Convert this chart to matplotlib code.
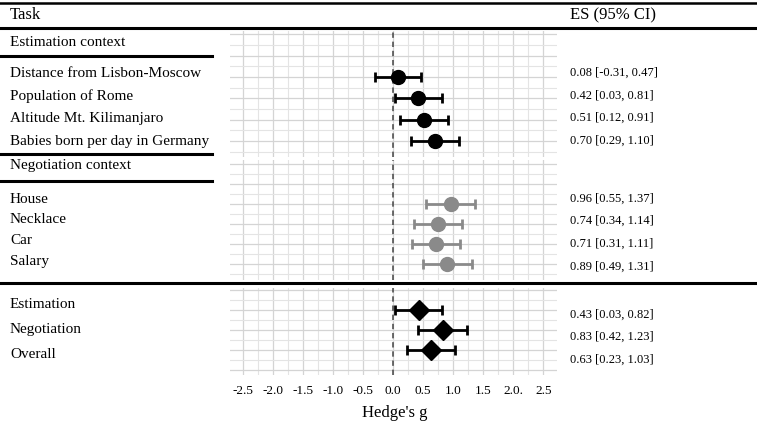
import matplotlib
matplotlib.use('Agg')
import matplotlib.pyplot as plt
from matplotlib.ticker import MultipleLocator

plt.rcParams['font.family'] = ['Liberation Serif', 'DejaVu Serif']

# --- data ---
est_tasks = ['Distance from Lisbon-Moscow', 'Population of Rome',
             'Altitude Mt. Kilimanjaro', 'Babies born per day in Germany']
est_es = [0.08, 0.42, 0.51, 0.70]
est_lo = [-0.31, 0.03, 0.12, 0.29]
est_hi = [0.47, 0.81, 0.91, 1.10]

neg_tasks = ['House', 'Necklace', 'Car', 'Salary']
neg_es = [0.96, 0.74, 0.71, 0.89]
neg_lo = [0.55, 0.34, 0.31, 0.49]
neg_hi = [1.37, 1.14, 1.11, 1.31]

sum_tasks = ['Estimation', 'Negotiation', 'Overall']
sum_es = [0.43, 0.83, 0.63]
sum_lo = [0.03, 0.42, 0.23]
sum_hi = [0.82, 1.23, 1.03]

tick_vals = [-2.5, -2.0, -1.5, -1.0, -0.5, 0.0, 0.5, 1.0, 1.5, 2.0, 2.5]
tick_labels = ['-2.5', '-2.0', '-1.5', '-1.0', '-0.5', '0.0', '0.5', '1.0', '1.5', '2.0.', '2.5']

# --- layout (pixels) ---
W, H = 757, 425
PX0, PX1 = 230, 557          # panel x extent
XLIM = (-2.72, 2.73)
panels = [
    # top, bottom, first row y, row step, label ys, es ys
    dict(top=31, bot=157, y0=77, step=21.3, lab=[73, 96, 118, 141], esy=[73, 96, 118, 141]),
    dict(top=160, bot=280, y0=204, step=20, lab=[199, 219, 240, 262], esy=[199, 221, 244, 267]),
    dict(top=288, bot=375, y0=310, step=20, lab=[304, 330, 354], esy=[315, 337, 360]),
]
groups = [
    (est_tasks, est_es, est_lo, est_hi, 'black', 'o', 10),
    (neg_tasks, neg_es, neg_lo, neg_hi, '#8a8a8a', 'o', 10),
    (sum_tasks, sum_es, sum_lo, sum_hi, 'black', 'D', 10),
]

fig = plt.figure(figsize=(W / 100, H / 100), dpi=100)

axes = []
for p, (tasks, es, lo, hi, col, mk, ms) in zip(panels, groups):
    ax = fig.add_axes([PX0 / W, 1 - p['bot'] / H, (PX1 - PX0) / W, (p['bot'] - p['top']) / H])
    ytop = (p['top'] - p['y0']) / p['step']
    ybot = (p['bot'] - p['y0']) / p['step']
    ax.set_ylim(ybot, ytop)
    ax.set_xlim(*XLIM)
    rows = list(range(len(tasks)))
    xerr = [[e - l for e, l in zip(es, lo)], [h - e for e, h in zip(es, hi)]]
    ax.errorbar(es, rows, xerr=xerr, fmt=mk, color=col, ms=ms, lw=2,
                capsize=3.5, capthick=2, zorder=3)
    ax.axvline(0, color='#444444', lw=1.1, ls=(0, (3.5, 2.5)), zorder=2)
    ax.xaxis.set_major_locator(MultipleLocator(0.5))
    ax.xaxis.set_minor_locator(MultipleLocator(0.25))
    ax.yaxis.set_major_locator(MultipleLocator(1))
    ax.yaxis.set_minor_locator(MultipleLocator(0.5))
    ax.grid(True, which='major', color='#d4d4d4', lw=0.9)
    ax.grid(True, which='minor', color='#e4e4e4', lw=0.8)
    ax.tick_params(which='both', length=0, labelleft=False, labelbottom=False)
    for s in ax.spines.values():
        s.set_visible(False)
    ax.set_axisbelow(True)
    axes.append(ax)

axes[-1].set_xticks(tick_vals)
axes[-1].set_xticklabels(tick_labels)
axes[-1].tick_params(labelbottom=True, labelsize=9.5, pad=7)

# overlay for table text and rules
ov = fig.add_axes([0, 0, 1, 1])
ov.set_xlim(0, W)
ov.set_ylim(H, 0)
ov.axis('off')
ov.patch.set_visible(False)

ov.plot([0, W], [3, 3], color='black', lw=1.8)
ov.plot([0, W], [28, 28], color='black', lw=2.2)
ov.plot([0, W], [283, 283], color='black', lw=2.2)
for y in (56, 154, 181):
    ov.plot([0, 212], [y, y], color='black', lw=2.2)

ov.text(10, 15, 'Task', fontsize=12, va='center')
ov.text(570, 15, 'ES (95% CI)', fontsize=12, va='center')
ov.text(10, 42, 'Estimation context', fontsize=11, va='center')
ov.text(10, 166, 'Negotiation context', fontsize=11, va='center')

for p, (tasks, es, lo, hi, col, mk, ms) in zip(panels, groups):
    for t, e, l, h, ly, ey in zip(tasks, es, lo, hi, p['lab'], p['esy']):
        ov.text(10, ly, t, fontsize=11, va='center')
        ov.text(570, ey, f'{e:.2f} [{l:.2f}, {h:.2f}]', fontsize=9, va='center')

ov.text(395, 413, "Hedge's g", fontsize=12, ha='center', va='center')

fig.savefig('out.png', dpi=100)
